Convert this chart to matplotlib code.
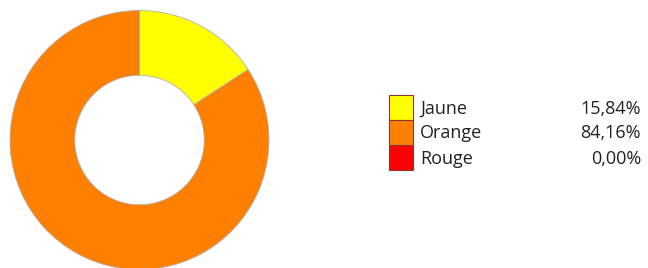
import matplotlib.pyplot as plt
from matplotlib.patches import Rectangle

# data
labels = ['Jaune', 'Orange', 'Rouge']
values = [15.84, 84.16, 0.00]
colors = ['#FFFF00', '#FF8000', '#FF0000']

plt.rcParams['font.family'] = ['Open Sans', 'DejaVu Sans']

fig = plt.figure(figsize=(6.48, 2.68), dpi=100)

# donut, centre ~ (139.5, 140) px, radius ~129.5 px
cx, cy, r = 139.5, 140, 129.5
W, H = 648, 268
ax = fig.add_axes([(cx - r) / W, (H - cy - r) / H, 2 * r / W, 2 * r / H])
ax.pie(values, colors=colors, startangle=90, counterclock=False,
       wedgeprops=dict(width=0.5, edgecolor='#b0b0b0', linewidth=0.6))
ax.set_xlim(-1, 1)
ax.set_ylim(-1, 1)
ax.axis('off')

# legend drawn in pixel coords
lax = fig.add_axes([0, 0, 1, 1])
lax.set_xlim(0, W)
lax.set_ylim(H, 0)
lax.axis('off')

row_h = 25
top = 95
for i, (lab, val, col) in enumerate(zip(labels, values, colors)):
    y0 = top + i * row_h
    lax.add_patch(Rectangle((389, y0), 24, row_h, facecolor=col,
                            edgecolor='#8a3a2a', linewidth=0.8))
    lax.text(420, y0 + row_h / 2 + 1, lab, fontsize=13, va='center', ha='left',
             color='#222222')
    lax.text(641, y0 + row_h / 2 + 1, f'{val:.2f}%'.replace('.', ','),
             fontsize=13, va='center', ha='right', color='#222222')

fig.savefig('out.png', dpi=100)
